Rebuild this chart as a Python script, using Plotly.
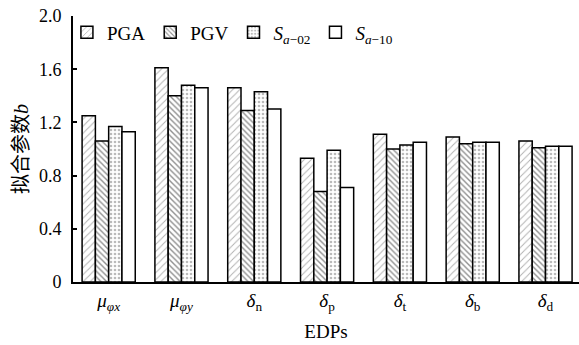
import plotly.graph_objects as go

# Fitted parameter b for each EDP under four intensity measures
edps = ["μφx", "μφy", "δn", "δp", "δt", "δb", "δd"]
edp_labels = [
    "<i>μ</i><sub><i>φx</i></sub>",
    "<i>μ</i><sub><i>φy</i></sub>",
    "<i>δ</i><sub>n</sub>",
    "<i>δ</i><sub>p</sub>",
    "<i>δ</i><sub>t</sub>",
    "<i>δ</i><sub>b</sub>",
    "<i>δ</i><sub>d</sub>",
]
pga = [1.25, 1.61, 1.46, 0.93, 1.11, 1.09, 1.06]
pgv = [1.06, 1.40, 1.29, 0.68, 1.00, 1.04, 1.01]
sa02 = [1.17, 1.48, 1.43, 0.99, 1.03, 1.05, 1.02]
sa10 = [1.13, 1.46, 1.30, 0.71, 1.05, 1.05, 1.02]
y_ticks = [0, 0.4, 0.8, 1.2, 1.6, 2.0]
y_tick_text = ["0", "0.4", "0.8", "1.2", "1.6", "2.0"]

series = [
    ("PGA", pga, dict(shape="/", fgcolor="#666666", bgcolor="white", size=5, solidity=0.2)),
    ("PGV", pgv, dict(shape="\\", fgcolor="#222222", bgcolor="white", size=4, solidity=0.35)),
    ("<i>S</i><sub><i>a</i>−02</sub>", sa02, dict(shape=".", fgcolor="#777777", bgcolor="white", size=4, solidity=0.35)),
    ("<i>S</i><sub><i>a</i>−10</sub>", sa10, None),
]

serif = "Liberation Serif, Times New Roman, Noto Sans CJK SC, serif"

fig = go.Figure()
for name, vals, pat in series:
    marker = dict(color="white", line=dict(color="black", width=1.5))
    if pat is not None:
        marker["pattern"] = pat
    fig.add_trace(go.Bar(x=edps, y=vals, name=name, marker=marker))

fig.update_layout(
    width=579,
    height=345,
    margin=dict(l=73, r=0, t=16, b=63),
    paper_bgcolor="white",
    plot_bgcolor="white",
    barmode="group",
    bargap=0.27,
    bargroupgap=0,
    font=dict(family=serif, size=18, color="black"),
    showlegend=True,
    legend=dict(
        orientation="h",
        x=-0.012,
        y=1.01,
        xanchor="left",
        yanchor="top",
        bgcolor="rgba(0,0,0,0)",
        font=dict(family=serif, size=19),
        itemwidth=30,
        traceorder="normal",
    ),
)

fig.update_xaxes(
    type="category",
    tickmode="array",
    tickvals=edps,
    ticktext=edp_labels,
    range=[-0.49, 6.46],
    showline=True,
    linecolor="black",
    linewidth=2,
    ticks="",
    showgrid=False,
    zeroline=False,
    tickfont=dict(family=serif, size=19),
    title=dict(text="EDPs", font=dict(family=serif, size=19), standoff=12),
)

fig.update_yaxes(
    range=[0, 2.0],
    tickmode="array",
    tickvals=y_ticks,
    ticktext=y_tick_text,
    showline=True,
    linecolor="black",
    linewidth=2,
    ticks="inside",
    ticklen=4,
    tickwidth=1.5,
    tickcolor="black",
    showgrid=False,
    zeroline=False,
    tickfont=dict(family=serif, size=18),
    ticklabelstandoff=6,
    title=dict(text="拟合参数<i>b</i>", font=dict(family=serif, size=20), standoff=5),
)

fig.write_html("out.html")
